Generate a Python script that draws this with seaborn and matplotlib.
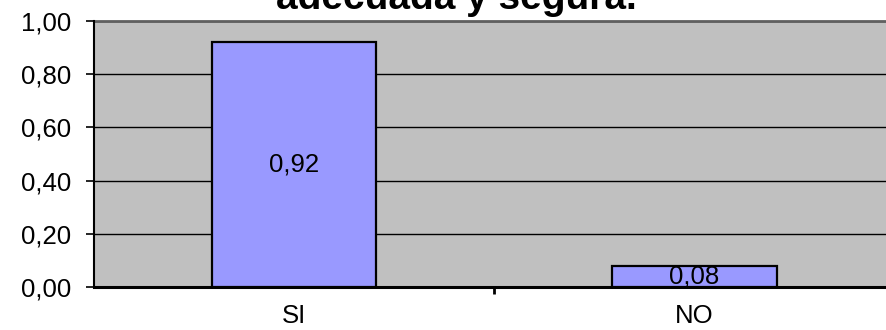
import matplotlib
matplotlib.use("Agg")
import matplotlib.pyplot as plt
from matplotlib.ticker import FuncFormatter, FixedLocator
import seaborn as sns
import pandas as pd

categories = ["SI", "NO"]
values = [0.92, 0.08]
title_text = "adecuada y segura."

sns.set_theme(style="white")
plt.rcParams['font.family'] = ['Liberation Sans', 'DejaVu Sans']

W, H = 886, 330
fig = plt.figure(figsize=(W / 100, H / 100), dpi=100)
left, bottom, top = 93.5, 287.0, 21.0
right = 895.0
ax = fig.add_axes([left / W, (H - bottom) / H, (right - left) / W, (bottom - top) / H])
ax.set_facecolor("#C0C0C0")

df = pd.DataFrame({"cat": categories, "val": values})
sns.barplot(data=df, x="cat", y="val", color="#9999FF", saturation=1,
            edgecolor="black", linewidth=1.6, width=0.41, ax=ax, zorder=3)

ax.set_xlim(-0.5, 1.5)
ax.set_ylim(0, 1.0)
ax.set_yticks([0, 0.2, 0.4, 0.6, 0.8, 1.0])
ax.yaxis.set_major_formatter(FuncFormatter(lambda v, p: f"{v:.2f}".replace(".", ",")))
ax.yaxis.grid(True, color="black", linewidth=1.0, zorder=1)
ax.set_axisbelow(True)

FS = 18.5
ax.set_xlabel("")
ax.set_ylabel("")
ax.tick_params(axis="y", which="major", direction="out", length=6, width=1.2,
               color="black", pad=10, labelsize=FS, labelcolor="black", left=True)
ax.tick_params(axis="x", which="major", length=0, pad=12.5, labelsize=FS, labelcolor="black")
ax.xaxis.set_minor_locator(FixedLocator([0.5]))
ax.tick_params(axis="x", which="minor", direction="out", length=5, width=2.0,
               color="black", bottom=True)

for side in ["top", "right"]:
    ax.spines[side].set_visible(False)
ax.spines["left"].set_color("black")
ax.spines["left"].set_linewidth(1.5)
ax.spines["bottom"].set_color("black")
ax.spines["bottom"].set_linewidth(2.2)
ax.axhline(1.0, color="#606060", linewidth=2.0, zorder=2, clip_on=False)

for i, v in enumerate(values):
    ax.text(i, v / 2, f"{v:.2f}".replace(".", ","), ha="center", va="center",
            fontsize=FS, color="black", zorder=5)

fig.text(456 / W, 1 - 9 / H, title_text, ha="center", va="baseline",
         fontsize=28, fontweight="bold", color="black")

fig.savefig("out.png", dpi=100, facecolor="white")
